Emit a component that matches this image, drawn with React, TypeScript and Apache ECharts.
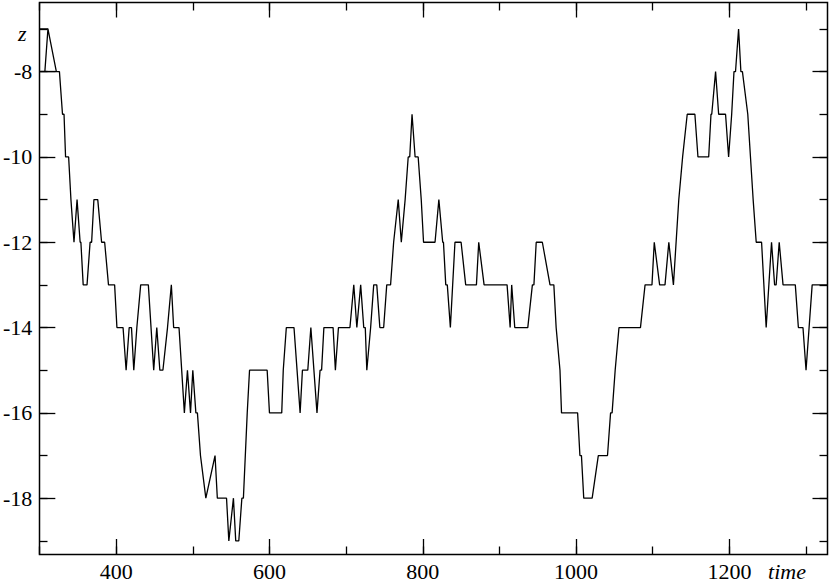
import React, { useEffect, useRef } from "react";
import * as echarts from "echarts";

// time values (the first few points retrace the little spike at the start)
const times = [
  300, 311, 307, 300, 307, 322, 311, 322, 326, 330, 332, 334, 338, 341, 345, 349, 353, 354, 357, 362,
  366, 368, 371, 376, 381, 385, 390, 398, 401, 409, 413, 417, 420, 423, 427, 432, 442, 449, 453, 457,
  461, 467, 472, 475, 482, 489, 493, 497, 500, 504, 506, 510, 517, 529, 532, 544, 547, 553, 556, 560,
  564, 566, 571, 574, 597, 600, 616, 618, 622, 632, 640, 643, 650, 654, 662, 666, 668, 671, 683, 686,
  690, 705, 710, 714, 719, 723, 725, 727, 732, 736, 740, 744, 749, 753, 758, 762, 768, 772, 777, 781,
  783, 786, 790, 794, 798, 801, 816, 821, 826, 827, 830, 832, 836, 842, 850, 856, 870, 873, 880, 910,
  914, 916, 920, 937, 943, 945, 948, 956, 966, 971, 974, 979, 981, 1002, 1005, 1007, 1010, 1021, 1029, 1041,
  1045, 1047, 1051, 1056, 1084, 1090, 1099, 1102, 1109, 1116, 1121, 1127, 1134, 1139, 1145, 1155, 1159, 1173, 1176, 1177,
  1182, 1186, 1195, 1199, 1203, 1206, 1208, 1212, 1215, 1217, 1224, 1231, 1235, 1242, 1248, 1255, 1259, 1261, 1265, 1270,
  1286, 1290, 1296, 1300, 1304, 1308, 1328,
];

const zValues = [
  -7, -7, -8, -8, -8, -8, -7, -8, -8, -9, -9, -10, -10, -11, -12, -11, -12, -12, -13, -13,
  -12, -12, -11, -11, -12, -12, -13, -13, -14, -14, -15, -14, -14, -15, -14, -13, -13, -15, -14, -15,
  -15, -14, -13, -14, -14, -16, -15, -16, -15, -16, -16, -17, -18, -17, -18, -18, -19, -18, -19, -19,
  -18, -18, -16, -15, -15, -16, -16, -15, -14, -14, -16, -15, -15, -14, -16, -15, -15, -14, -14, -15,
  -14, -14, -13, -14, -13, -14, -14, -15, -14, -13, -13, -14, -14, -13, -13, -12, -11, -12, -11, -10,
  -10, -9, -10, -10, -11, -12, -12, -11, -12, -12, -13, -13, -14, -12, -12, -13, -13, -12, -13, -13,
  -14, -13, -14, -14, -13, -13, -12, -12, -13, -13, -14, -15, -16, -16, -17, -17, -18, -18, -17, -17,
  -16, -16, -15, -14, -14, -13, -13, -12, -13, -13, -12, -13, -11, -10, -9, -9, -10, -10, -9, -9,
  -8, -9, -9, -10, -9, -8, -8, -7, -8, -8, -9, -11, -12, -12, -14, -12, -13, -13, -12, -13,
  -13, -14, -14, -15, -14, -13, -13,
];

// tick ranges: [first, last, step]
const xMajorRange = [400, 1200, 200];
const xMinorRange = [300, 1300, 100];
const yMajorRange = [-18, -8, 2];
const yMinorRange = [-19, -7, 1];

const X_MIN = 300;
const X_MAX = 1328;
const Y_MIN = -19.32;
const Y_MAX = -6.38;

const FONT = "'Liberation Serif', 'Times New Roman', serif";
const FS = 22;

// plot frame (pixels)
const G_LEFT = 39.5;
const G_TOP = 2.5;
const G_W = 788;
const G_H = 552;

export default function App() {
  const ref = useRef<HTMLDivElement>(null);

  useEffect(() => {
    if (!ref.current) return;
    const chart = echarts.init(ref.current, null, { renderer: "svg" });

    const xPx = (t: number) => G_LEFT + ((t - X_MIN) / (X_MAX - X_MIN)) * G_W;
    const yPx = (v: number) => G_TOP + ((Y_MAX - v) / (Y_MAX - Y_MIN)) * G_H;

    const tickStyle = { color: "#000", width: 1.3 };
    const fmt = (v: number) => String(v);
    const labelStyle = (margin: number) => ({
      show: true,
      formatter: fmt,
      color: "#000",
      fontFamily: FONT,
      fontSize: FS,
      margin,
    });

    const grids: any[] = [
      { left: G_LEFT, top: G_TOP, width: G_W, height: G_H, show: true, borderColor: "#000", borderWidth: 1.5 },
      // x major ticks
      { left: xPx(xMajorRange[0]), top: G_TOP, width: xPx(xMajorRange[1]) - xPx(xMajorRange[0]), height: G_H },
      // x minor ticks
      { left: xPx(xMinorRange[0]), top: G_TOP, width: xPx(xMinorRange[1]) - xPx(xMinorRange[0]), height: G_H },
      // y major ticks
      { left: G_LEFT, top: yPx(yMajorRange[1]), width: G_W, height: yPx(yMajorRange[0]) - yPx(yMajorRange[1]) },
      // y minor ticks
      { left: G_LEFT, top: yPx(yMinorRange[1]), width: G_W, height: yPx(yMinorRange[0]) - yPx(yMinorRange[1]) },
    ];

    const hiddenAxis = (gridIndex: number, min: number, max: number) => ({
      type: "value",
      gridIndex,
      min,
      max,
      show: false,
    });

    const tickAxis = (gridIndex: number, position: string, r: number[], len: number, labels: boolean, margin: number) => ({
      type: "value",
      gridIndex,
      position,
      min: r[0],
      max: r[1],
      interval: r[2],
      axisLine: { show: false, onZero: false },
      splitLine: { show: false },
      axisTick: { show: true, inside: true, length: len, lineStyle: tickStyle },
      axisLabel: labels ? labelStyle(margin) : { show: false },
    });

    const xAxes = [
      {
        type: "value",
        gridIndex: 0,
        min: X_MIN,
        max: X_MAX,
        axisLine: { show: false, onZero: false },
        axisTick: { show: false },
        axisLabel: { show: false },
        splitLine: { show: false },
      },
      tickAxis(1, "bottom", xMajorRange, 15, true, 6),
      tickAxis(1, "top", xMajorRange, 15, false, 6),
      tickAxis(2, "bottom", xMinorRange, 8, false, 6),
      tickAxis(2, "top", xMinorRange, 8, false, 6),
      hiddenAxis(3, X_MIN, X_MAX),
      hiddenAxis(4, X_MIN, X_MAX),
    ];
    const yAxes = [
      {
        type: "value",
        gridIndex: 0,
        min: Y_MIN,
        max: Y_MAX,
        axisLine: { show: false, onZero: false },
        axisTick: { show: false },
        axisLabel: { show: false },
        splitLine: { show: false },
      },
      hiddenAxis(1, Y_MIN, Y_MAX),
      hiddenAxis(2, Y_MIN, Y_MAX),
      tickAxis(3, "left", yMajorRange, 15, true, 8),
      tickAxis(3, "right", yMajorRange, 15, false, 8),
      tickAxis(4, "left", yMinorRange, 8, false, 8),
      tickAxis(4, "right", yMinorRange, 8, false, 8),
    ];

    chart.setOption({
      animation: false,
      backgroundColor: "#fff",
      grid: grids,
      xAxis: xAxes,
      yAxis: yAxes,
      graphic: [
        {
          type: "text",
          x: 18,
          y: 33,
          style: {
            text: "z",
            font: `italic ${FS}px ${FONT}`,
            fill: "#000",
            align: "left",
            verticalAlign: "middle",
          },
        },
        {
          type: "text",
          x: 806,
          y: 571,
          style: {
            text: "time",
            font: `italic ${FS}px ${FONT}`,
            fill: "#000",
            align: "right",
            verticalAlign: "middle",
          },
        },
      ],
      series: [
        {
          type: "line",
          xAxisIndex: 0,
          yAxisIndex: 0,
          data: times.map((t, i) => [t, zValues[i]]),
          showSymbol: false,
          symbol: "none",
          clip: true,
          lineStyle: { color: "#000", width: 1.3 },
        },
      ],
    });

    return () => chart.dispose();
  }, []);

  return (
    <div
      ref={ref}
      style={{ position: "fixed", left: 0, top: 0, width: 830, height: 582, background: "#fff" }}
    />
  );
}
